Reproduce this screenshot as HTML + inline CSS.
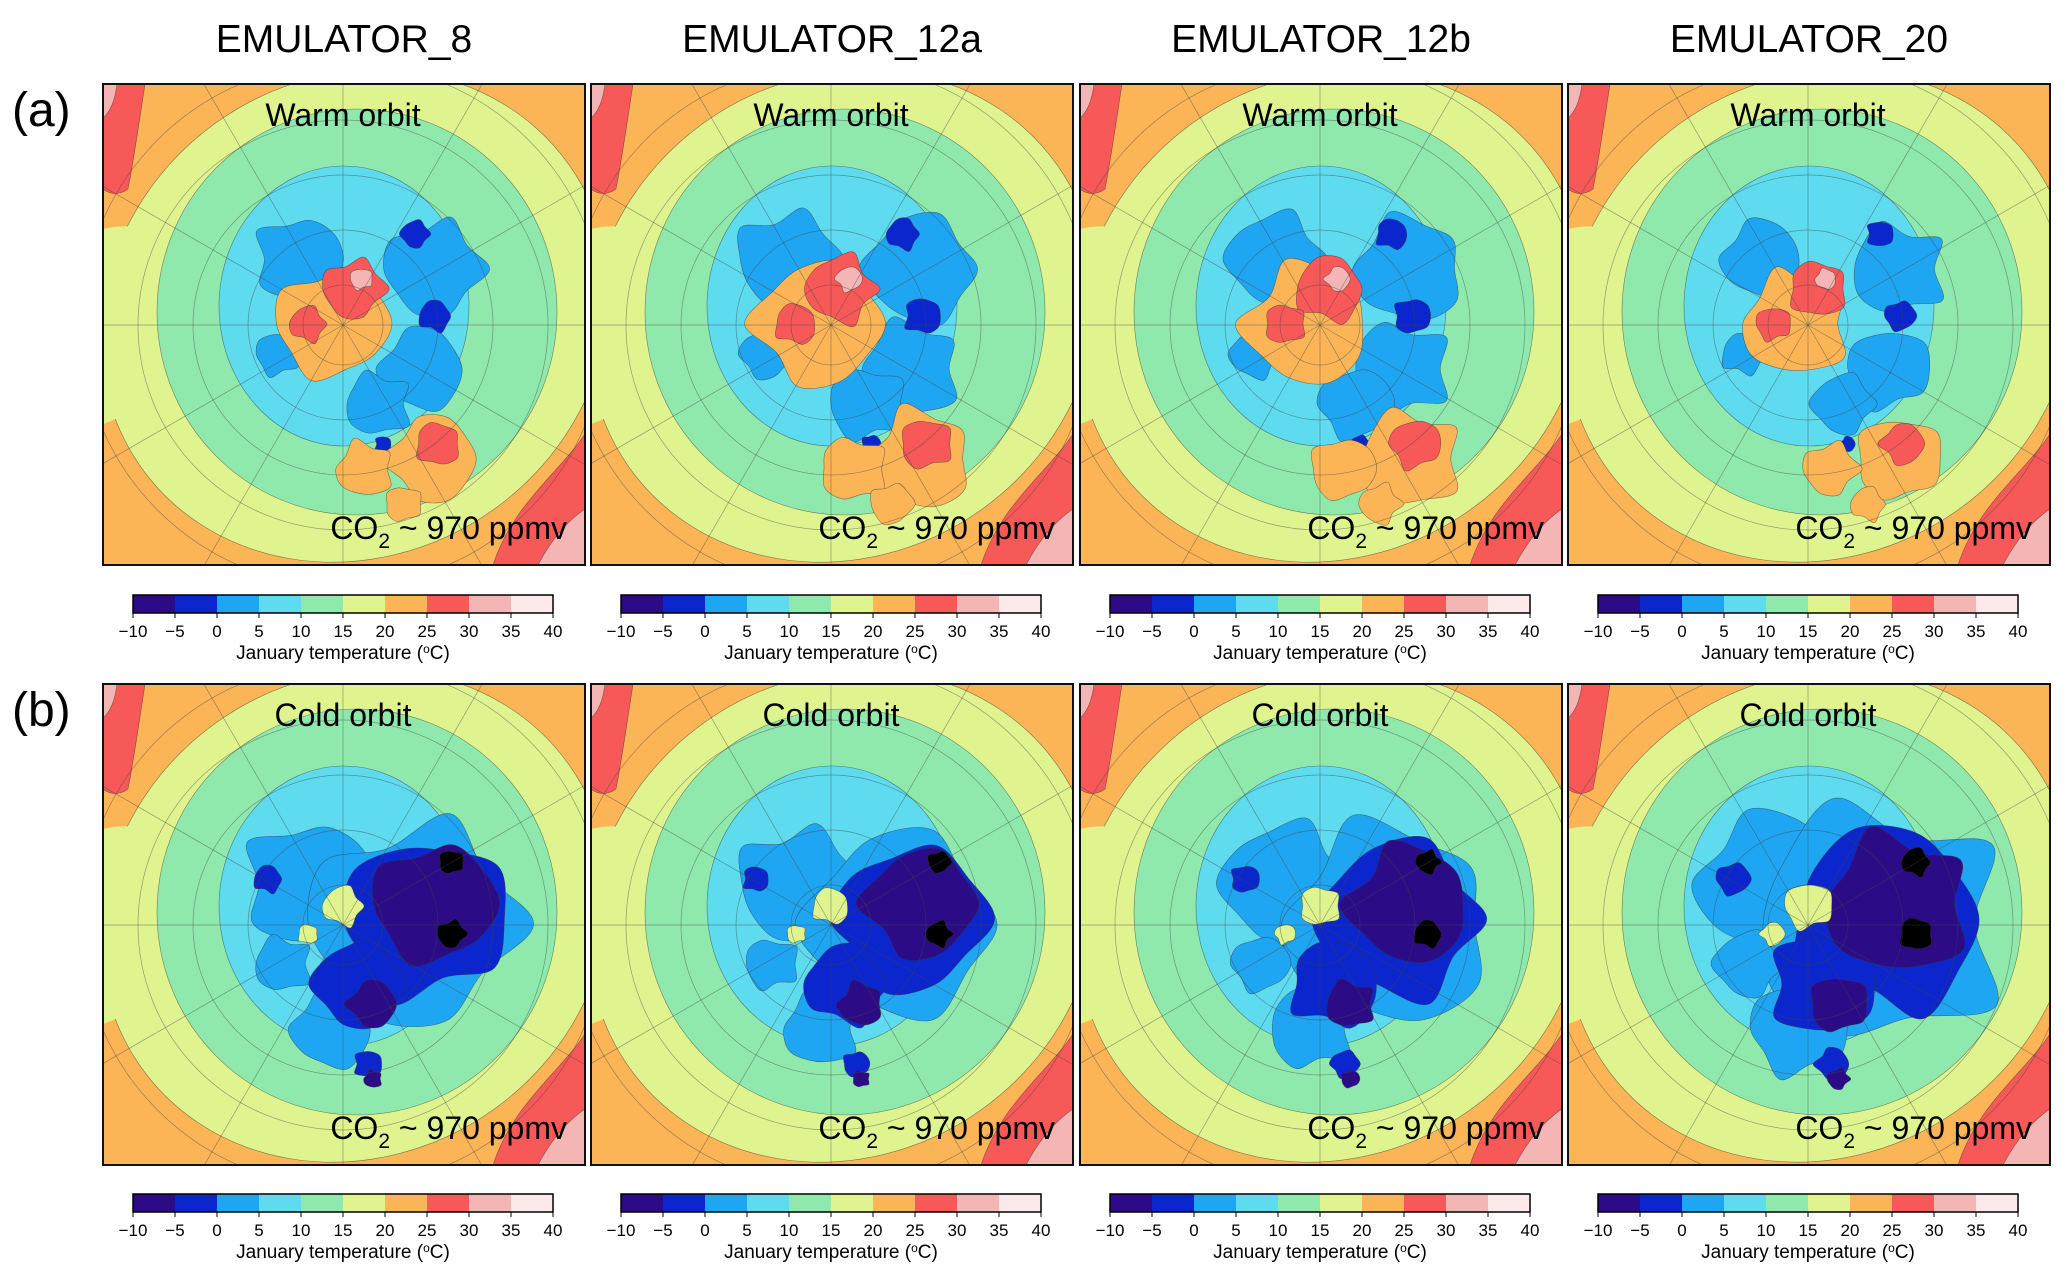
<!DOCTYPE html>
<html><head><meta charset="utf-8"><style>
html,body{margin:0;padding:0;background:#fff;overflow:hidden;width:2067px;height:1283px;}
svg{display:block;font-family:"Liberation Sans",Arial,sans-serif;}
</style></head><body>
<svg id="fig" width="2067" height="1283" viewBox="0 0 2067 1283" xmlns="http://www.w3.org/2000/svg"></svg>
<script>
// ---- data ----
const models = ["EMULATOR_8","EMULATOR_12a","EMULATOR_12b","EMULATOR_20"];
const rowLabels = ["(a)","(b)"];
const rowTitles = ["Warm orbit","Cold orbit"];
const cbTicks = [-10,-5,0,5,10,15,20,25,30,35,40];
const cbColors = ["#2b0c86","#0b26cc","#1ea6f2","#5edbef","#8fe9ad","#dff48f","#fbb556","#f75858","#f4b5b5","#fde9e9"];
// per-column scale of anomaly blobs
const warmScale = [1.0,1.15,1.12,0.95];
const coldScale = [1.0,0.92,1.0,1.18];
// blobs: [x, y, radius, colorIndex] in panel-local coords (480x480)
const warmBlobs = [
 [195,175,42,2],[330,185,48,2],[320,285,42,2],[275,320,32,2],[175,270,22,2],
 [312,150,14,1],[332,232,16,1],[280,360,8,1],
 [228,240,55,6],[330,375,44,6],[262,385,28,6],[300,420,18,6],
 [250,205,30,7],[205,240,18,7],[335,360,22,7],
 [258,195,11,8]
];
const coldBlobs = [
 [205,200,62,2],[310,240,102,2],[230,345,40,2],[180,280,28,2],
 [320,235,80,1],[255,300,44,1],[165,195,14,1],[265,380,14,1],
 [330,220,60,0],[270,320,24,0],[270,395,9,0],
 [348,178,12,-1],[348,250,14,-1],
 [240,222,20,5],[205,250,10,5]
];

const NS="http://www.w3.org/2000/svg";
const svg=document.getElementById('fig');
function el(tag,attrs,parent){const e=document.createElementNS(NS,tag);for(const k in attrs)e.setAttribute(k,attrs[k]);(parent||svg).appendChild(e);return e;}
function blobPath(cx,cy,r,seed){
  const n=10,pts=[];
  for(let i=0;i<n;i++){const a=i/n*Math.PI*2;const w=1+0.14*Math.sin(i*2.3+seed*1.7)+0.08*Math.cos(i*3.1+seed);pts.push([cx+Math.cos(a)*r*w,cy+Math.sin(a)*r*w*0.95]);}
  let d="";
  for(let i=0;i<n;i++){const p0=pts[(i-1+n)%n],p1=pts[i],p2=pts[(i+1)%n],p3=pts[(i+2)%n];
    if(i===0)d+="M"+p1[0].toFixed(1)+","+p1[1].toFixed(1);
    const c1=[p1[0]+(p2[0]-p0[0])/6,p1[1]+(p2[1]-p0[1])/6],c2=[p2[0]-(p3[0]-p1[0])/6,p2[1]-(p3[1]-p1[1])/6];
    d+="C"+c1.map(v=>v.toFixed(1))+" "+c2.map(v=>v.toFixed(1))+" "+p2.map(v=>v.toFixed(1));}
  return d+"Z";
}
const colX=[103,591,1080,1568], rowY=[84,684], PW=482, PH=481;
const cbY=[595,1194];

models.forEach((m,c)=>{
  const t=el('text',{x:colX[c]+241,y:52,'font-size':39,'text-anchor':'middle',fill:'#000'});
  
  
  t.textContent=m;
});
rowLabels.forEach((l,r)=>{
  const t=el('text',{x:12,y:rowY[r]+42,'font-size':48,fill:'#000'});
  
  
  t.textContent=l;
});

for(let r=0;r<2;r++)for(let c=0;c<4;c++){
  const X=colX[c],Y=rowY[r];
  const g=el('g',{transform:`translate(${X},${Y})`});
  
  
  const id='clip'+r+c;
  const cp=el('clipPath',{id:id},g);el('rect',{x:0,y:0,width:PW,height:PH},cp);
  const m=el('g',{'clip-path':`url(#${id})`},g);
  const st={stroke:'#333','stroke-width':0.6,'stroke-opacity':0.6};
  el('rect',Object.assign({x:0,y:0,width:PW,height:PH,fill:cbColors[6]}),m);
  el('ellipse',Object.assign({cx:252,cy:232,rx:262,ry:238,transform:'rotate(-35 252 232)',fill:cbColors[5]},st),m);
  el('path',Object.assign({d:'M0,145 C40,135 90,155 120,180 L110,270 C70,300 30,330 0,340 Z',fill:cbColors[5]},{}),m);
  el('path',Object.assign({d:'M0,0 L42,0 C36,40 30,80 25,105 C15,112 6,110 0,105 Z',fill:cbColors[7]},st),m);
  el('path',Object.assign({d:'M0,0 L14,0 C12,16 7,28 0,34 Z',fill:cbColors[8]},st),m);
  el('path',Object.assign({d:'M482,350 C455,390 410,420 390,481 L482,481 Z',fill:cbColors[7]},st),m);
  el('path',Object.assign({d:'M482,425 C460,440 445,462 435,481 L482,481 Z',fill:cbColors[8]},st),m);
  el('ellipse',Object.assign({cx:254,cy:228,rx:200,ry:203,fill:cbColors[4]},st),m);
  el('ellipse',Object.assign({cx:241,cy:222,rx:125,ry:140,fill:cbColors[3]},st),m);
  const blobs=r?coldBlobs:warmBlobs, sc=(r?coldScale:warmScale)[c];
  blobs.forEach((b,i)=>{
    const fill=b[3]<0?'#000':cbColors[b[3]];
    const p=el('path',Object.assign({d:blobPath(b[0],b[1],b[2]*sc,i+c*0.7),fill:fill},st),m);
    
    
  });
  const gr=el('g',{stroke:'#444','stroke-width':0.7,'stroke-opacity':0.5,fill:'none'},m);
  [40,95,150,205,262].forEach(rr=>el('circle',{cx:240,cy:241,r:rr},gr));
  for(let k=0;k<12;k++){const a=k*Math.PI/6;el('line',{x1:240,y1:241,x2:240+Math.cos(a)*700,y2:241+Math.sin(a)*700},gr);}
  el('rect',{x:0,y:0,width:PW,height:PH,fill:'none',stroke:'#111','stroke-width':2},g);
  const t=el('text',{x:240,y:42,'font-size':32,'text-anchor':'middle',fill:'#000'},g);
  
  
  t.textContent=rowTitles[r];
  const co=el('text',{x:464,y:455,'font-size':32,'text-anchor':'end',fill:'#000'},g);
  
  
  co.innerHTML='CO<tspan font-size="21" dy="9">2</tspan><tspan dy="-9"> ~ 970 ppmv</tspan>';

  const cb=el('g',{transform:`translate(${X+30},${cbY[r]})`});
  
  
  const W=420,H=18,lo=cbTicks[0],hi=cbTicks[cbTicks.length-1];
  const sx=v=>(v-lo)/(hi-lo)*W;
  cbColors.forEach((col,i)=>{
    const rc=el('rect',{x:sx(cbTicks[i]),y:0,width:sx(cbTicks[i+1])-sx(cbTicks[i]),height:H,fill:col},cb);
    
    
  });
  el('rect',{x:0,y:0,width:W,height:H,fill:'none',stroke:'#000','stroke-width':1.5},cb);
  cbTicks.forEach(v=>{
    el('line',{x1:sx(v),y1:H,x2:sx(v),y2:H+5,stroke:'#000','stroke-width':1},cb);
    const tt=el('text',{x:sx(v),y:H+24,'font-size':17,'text-anchor':'middle',fill:'#000'},cb);
    
    
    tt.textContent=v<0?'\u2212'+(-v):String(v);
  });
  const ct=el('text',{x:W/2,y:H+46,'font-size':19,'text-anchor':'middle',fill:'#000'},cb);
  
  
  ct.innerHTML='January temperature (<tspan font-size="12" dy="-6">o</tspan><tspan dy="6">C)</tspan>';
}
</script>
</body></html>
